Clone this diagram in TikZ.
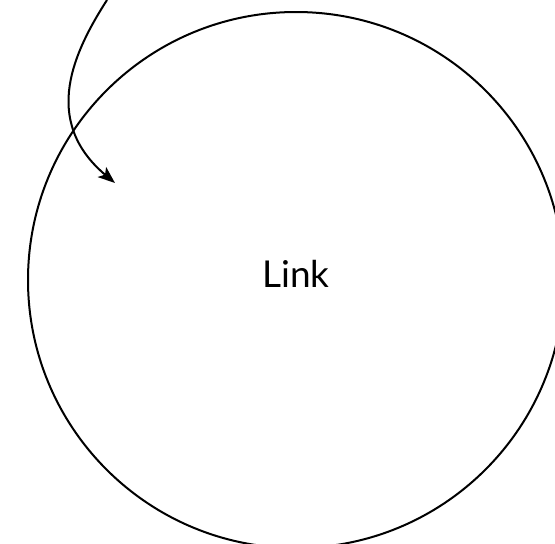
\documentclass[tikz,border=0pt]{standalone}
\usepackage{fontspec}
\setmainfont{Lato}
\usetikzlibrary{arrows.meta}
\begin{document}
\begin{tikzpicture}[x=1pt,y=-1pt,
  linkcircle/.style={circle,draw,line width=2pt,minimum size=536pt,inner sep=0pt,text depth=12pt,font=\fontsize{37}{44}\selectfont},
  looparrow/.style={line width=2pt,-{Stealth[length=17pt,width=13pt,inset=4pt]}}]
\useasboundingbox (0,0) rectangle (555,544);
\clip (0,0) rectangle (555,544);
\node[linkcircle] (link) at (296,280) {Link};
\coordinate (start) at (107,0);
\coordinate (tip) at (115,183);
\draw[looparrow] (start) .. controls (75,50) and (40,120) .. (tip);
\end{tikzpicture}
\end{document}
